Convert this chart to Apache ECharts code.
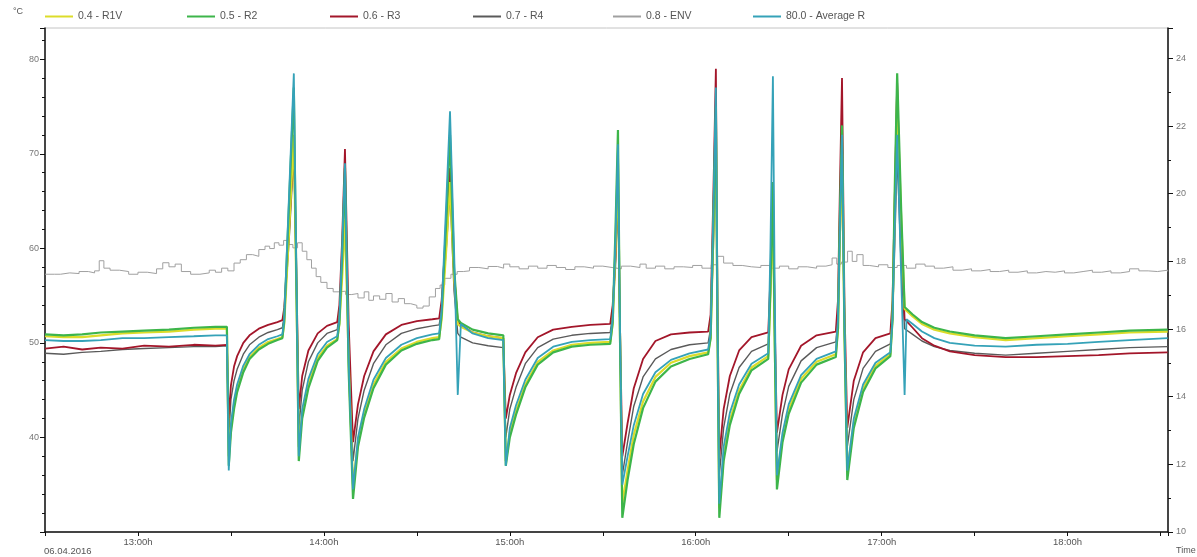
<!DOCTYPE html>
<html>
<head>
<meta charset="utf-8">
<script src="https://cdn.jsdelivr.net/npm/echarts@6/dist/echarts.min.js"></script>
<style>
  html, body { margin: 0; padding: 0; background: #fff; }
  #chart { width: 1197px; height: 557px; }
</style>
</head>
<body>
<div id="chart"></div>
<script>
// Sample times, minutes after 12:00 (06.04.2016)
const T = [30, 36, 42, 48, 55, 62, 70, 78, 85, 88.7,
  89.3, 90, 91, 92, 94, 96, 99, 102, 105, 106.6,
  107.2, 108.8, 110.3, 111.1, 111.9, 113, 115, 118, 121, 124.3,
  125.0, 125.9, 126.8, 128.0, 129.4, 131, 133, 136, 140, 145,
  150, 155, 157.2, 158.0, 159.5, 160.7, 162.0, 163.2, 164.2, 168,
  173, 177.9, 178.7, 180, 182, 185, 189, 194, 200, 206,
  212.4, 213.2, 214.1, 214.9, 215.5, 216.3, 218, 220, 223, 227,
  232, 238, 244.0, 244.8, 245.7, 246.5, 247.0, 247.6, 249, 251,
  254, 258, 263.4, 264.1, 264.9, 265.5, 266.2, 268, 270, 274,
  279, 285.2, 285.9, 286.5, 287.2, 288.0, 288.9, 291, 294, 298,
  302.8, 303.5, 304.2, 305.0, 306.3, 307.4, 308.0, 310, 313, 317,
  322, 330, 340, 350, 360, 370, 380, 392.3];

// Probe temperatures, °C (left axis)
const R1V = [50.7, 50.6, 50.6, 50.8, 51.0, 51.1, 51.2, 51.4, 51.5, 51.5,
  38.0, 41.0, 43.5, 45.2, 47.2, 48.5, 49.5, 50.1, 50.4, 50.6,
  52.0, 62.0, 72.0, 56.0, 39.0, 42.5, 45.7, 48.4, 49.7, 50.4,
  52.0, 57.0, 63.0, 48.0, 35.0, 39.5, 42.5, 45.6, 48.0, 49.4,
  50.1, 50.5, 50.6, 52.5, 60.0, 67.0, 57.0, 52.0, 51.7, 51.1,
  50.7, 50.5, 37.5, 40.5, 42.8, 45.6, 48.0, 49.2, 49.8, 50.0,
  50.1, 52.0, 60.0, 69.0, 52.0, 33.0, 36.5, 40.3, 43.8, 46.4,
  47.9, 48.6, 49.0, 50.5, 62.0, 73.0, 52.0, 32.5, 38.0, 41.8,
  45.0, 47.4, 48.6, 55.0, 64.0, 50.0, 35.5, 40.0, 43.0, 46.2,
  48.0, 48.8, 51.5, 61.0, 70.0, 51.0, 36.5, 41.5, 45.2, 47.6,
  48.8, 52.5, 64.0, 76.0, 63.0, 53.6, 53.4, 52.8, 52.0, 51.4,
  51.0, 50.6, 50.3, 50.5, 50.7, 50.9, 51.1, 51.2];

const R2 = [50.9, 50.8, 50.9, 51.1, 51.2, 51.3, 51.4, 51.6, 51.7, 51.7,
  37.0, 40.5, 43.0, 44.8, 46.9, 48.3, 49.3, 49.9, 50.3, 50.5,
  52.3, 65.0, 77.0, 57.0, 37.5, 42.0, 45.2, 48.1, 49.5, 50.3,
  52.1, 59.0, 68.5, 47.0, 33.5, 39.0, 42.1, 45.2, 47.7, 49.2,
  49.9, 50.3, 50.4, 53.0, 63.0, 72.0, 58.0, 52.5, 52.1, 51.4,
  51.0, 50.8, 37.0, 40.0, 42.4, 45.3, 47.7, 49.0, 49.6, 49.8,
  49.9, 52.2, 62.0, 72.5, 52.0, 31.5, 35.5, 39.3, 43.1, 45.9,
  47.5, 48.3, 48.8, 50.5, 63.0, 75.0, 52.0, 31.5, 37.5, 41.3,
  44.6, 47.1, 48.3, 56.0, 67.0, 50.0, 34.5, 39.5, 42.5, 45.8,
  47.7, 48.5, 51.5, 63.0, 73.0, 51.0, 35.5, 41.0, 44.8, 47.3,
  48.6, 52.5, 66.0, 78.5, 64.0, 53.8, 53.6, 53.0, 52.2, 51.6,
  51.2, 50.8, 50.5, 50.7, 50.9, 51.1, 51.3, 51.4];

const R3 = [49.4, 49.6, 49.3, 49.5, 49.4, 49.7, 49.6, 49.8, 49.7, 49.8,
  42.0, 45.5, 47.5, 48.6, 50.0, 50.8, 51.5, 51.9, 52.2, 52.4,
  53.7, 62.0, 71.5, 58.0, 43.0, 46.5, 49.2, 51.0, 51.8, 52.2,
  54.0, 61.0, 70.5, 52.0, 39.5, 43.5, 46.5, 49.1, 50.9, 51.9,
  52.3, 52.5, 52.6, 54.5, 62.0, 68.5, 57.5, 52.3, 51.9, 51.1,
  50.7, 50.5, 42.0, 44.5, 46.8, 49.0, 50.6, 51.4, 51.7, 51.9,
  52.0, 54.0, 59.0, 67.0, 53.0, 38.0, 41.5, 45.2, 48.3, 50.2,
  50.9, 51.1, 51.2, 53.0, 66.0, 79.0, 55.0, 38.0, 43.0, 46.5,
  49.2, 50.6, 51.1, 57.0, 66.0, 52.0, 40.5, 44.5, 47.2, 49.7,
  50.8, 51.2, 54.5, 66.0, 78.0, 54.0, 41.0, 46.0, 49.0, 50.5,
  51.0, 54.5, 65.0, 77.5, 61.0, 52.5, 52.3, 51.6, 50.5, 49.7,
  49.1, 48.7, 48.5, 48.5, 48.6, 48.7, 48.9, 49.0];

const R4 = [48.9, 48.8, 49.0, 49.1, 49.3, 49.4, 49.5, 49.6, 49.6, 49.7,
  40.0, 44.0, 46.0, 47.2, 48.8, 49.8, 50.6, 51.1, 51.4, 51.6,
  52.9, 61.0, 70.0, 57.0, 41.0, 45.0, 48.0, 50.0, 51.0, 51.4,
  53.0, 58.5, 67.0, 50.0, 37.5, 42.0, 45.0, 47.8, 49.8, 51.0,
  51.5, 51.8, 51.9, 53.5, 60.0, 66.0, 55.5, 51.0, 50.6, 50.0,
  49.7, 49.5, 40.0, 43.0, 45.3, 47.8, 49.5, 50.4, 50.8, 51.0,
  51.1, 53.0, 58.0, 66.0, 52.0, 36.0, 39.5, 43.3, 46.4, 48.3,
  49.3, 49.8, 50.0, 51.5, 60.0, 70.0, 52.0, 36.0, 41.0, 44.6,
  47.4, 49.1, 49.9, 55.0, 63.0, 50.0, 38.5, 42.5, 45.4, 48.1,
  49.5, 50.1, 52.5, 60.0, 68.0, 51.0, 39.0, 44.0, 47.3, 49.1,
  49.9, 52.5, 60.0, 70.0, 58.0, 51.5, 51.4, 50.9, 50.2, 49.6,
  49.2, 48.9, 48.7, 48.9, 49.1, 49.3, 49.5, 49.6];

const AVG_R = [50.3, 50.2, 50.2, 50.3, 50.5, 50.5, 50.6, 50.7, 50.8, 50.8,
  36.5, 41.5, 44.0, 45.6, 47.6, 48.8, 49.8, 50.4, 50.7, 50.9,
  52.5, 66.0, 78.5, 58.0, 38.0, 43.0, 46.2, 48.8, 50.1, 50.7,
  52.5, 60.0, 69.0, 48.0, 34.5, 40.0, 43.0, 46.1, 48.4, 49.8,
  50.5, 50.9, 51.0, 53.5, 65.0, 74.5, 60.0, 44.5, 52.0, 51.0,
  50.5, 50.3, 37.0, 41.0, 43.4, 46.1, 48.4, 49.6, 50.1, 50.3,
  50.4, 52.5, 61.0, 71.0, 53.0, 35.0, 38.0, 41.3, 44.6, 46.9,
  48.2, 48.9, 49.3, 51.0, 64.0, 77.0, 53.0, 33.0, 39.0, 42.6,
  45.6, 47.8, 48.9, 60.0, 78.2, 55.0, 36.0, 40.5, 43.5, 46.6,
  48.3, 49.1, 52.5, 62.0, 72.0, 52.0, 36.5, 42.0, 45.6, 47.9,
  49.0, 52.5, 62.0, 72.0, 57.0, 44.5, 52.5, 52.0, 51.2, 50.5,
  50.0, 49.7, 49.6, 49.8, 49.9, 50.1, 50.3, 50.5];

// Environment temperature, °C (right axis), own sample times
const ENV_T = [30, 33, 35, 38, 41, 44, 46, 47.5, 49, 51,
  54, 57, 60, 63, 66, 68, 70, 72, 74, 77,
  80, 83, 85, 87, 89, 91, 93, 95, 97, 99,
  101, 102.5, 104, 105.5, 107, 108.5, 110, 111.5, 113, 114.5,
  116, 117.5, 119, 121, 123, 125, 127, 129, 131, 133,
  134.5, 136, 138, 140, 142, 144, 146, 148, 150, 152,
  154, 156, 157.5, 159, 161, 163, 165, 167, 170, 173,
  176, 178, 180, 183, 186, 189, 192, 195, 198, 201,
  204, 207, 210, 213, 216, 219, 222, 224, 227, 230,
  233, 236, 239, 242, 245, 247, 249, 252, 255, 258,
  261, 264, 267, 270, 273, 276, 279, 282, 284, 285.5,
  287, 289, 290.5, 292, 294, 296, 299, 302, 305, 308,
  311, 314, 317, 320, 323, 326, 329, 332, 335, 338,
  341, 344, 347, 350, 353, 356, 359, 362, 365, 368,
  371, 374, 377, 380, 383, 386, 389, 392.3];

const ENV = [17.62, 17.62, 17.66, 17.64, 17.70, 17.66, 17.72, 18.02, 17.80, 17.74,
  17.70, 17.62, 17.68, 17.64, 17.78, 17.96, 17.84, 17.92, 17.70, 17.62,
  17.66, 17.74, 17.68, 17.80, 17.72, 17.95, 18.05, 18.20, 18.15, 18.35,
  18.45, 18.38, 18.55, 18.48, 18.62, 18.50, 18.40, 18.55, 18.30, 18.05,
  17.80, 17.55, 17.38, 17.20, 17.10, 17.12, 17.02, 17.05, 16.92, 17.10,
  16.85, 16.98, 16.88, 17.05, 16.80, 16.90, 16.75, 16.70, 16.62, 16.68,
  16.95, 17.20, 17.30, 17.50, 17.62, 17.70, 17.72, 17.82, 17.78, 17.85,
  17.80, 17.92, 17.84, 17.78, 17.86, 17.80, 17.88, 17.82, 17.76, 17.84,
  17.80, 17.86, 17.82, 17.78, 17.86, 17.82, 17.92, 17.80, 17.86, 17.78,
  17.84, 17.82, 17.88, 17.80, 17.90, 18.15, 17.95, 17.88, 17.84, 17.82,
  17.88, 17.80, 17.86, 17.78, 17.84, 17.80, 17.86, 17.90, 18.10, 17.92,
  17.98, 18.30, 18.00, 18.20, 17.88, 17.84, 17.90, 17.82, 17.88, 17.80,
  17.92, 17.86, 17.80, 17.84, 17.74, 17.78, 17.72, 17.76, 17.70, 17.74,
  17.68, 17.72, 17.66, 17.70, 17.68, 17.72, 17.66, 17.70, 17.74, 17.68,
  17.72, 17.66, 17.70, 17.78, 17.72, 17.70, 17.74, 17.70];

const SERIES_NAMES = ['0.4 - R1V', '0.5 - R2', '0.6 - R3', '0.7 - R4', '0.8 - ENV', '80.0 - Average R'];
const SERIES_COLORS = ['#dcdc2a', '#3db54a', '#a3162a', '#5a5a5a', '#a0a0a0', '#35a2b8'];
const HOUR_LABELS = [13, 14, 15, 16, 17, 18];

// minutes after noon -> decimal hours on the time axis
const toPoints = (ts, vs) => ts.map((t, i) => [12 + t / 60, vs[i]]);

const near = (a, b) => Math.abs(a - b) < 1e-6;

const chart = echarts.init(document.getElementById('chart'), null, { renderer: 'canvas' });

const FONT = 'Liberation Sans, Arial, sans-serif';
const legendText = { fontFamily: FONT, fontSize: 10.5, color: '#555' };
const legendLeft = [40, 182, 325, 468, 608, 748];

const lineSeries = (idx, values, ts, axis, width, z, step) => ({
  name: SERIES_NAMES[idx],
  type: 'line',
  yAxisIndex: axis,
  data: toPoints(ts, values),
  showSymbol: false,
  symbol: 'none',
  step: step || false,
  z: z,
  lineStyle: { color: SERIES_COLORS[idx], width: width },
  itemStyle: { color: SERIES_COLORS[idx] },
  emphasis: { disabled: true }
});

chart.setOption({
  animation: false,
  backgroundColor: '#fff',
  textStyle: { fontFamily: FONT },
  legend: SERIES_NAMES.map((n, i) => ({
    data: [n],
    left: legendLeft[i],
    top: 6,
    icon: 'rect',
    itemWidth: 28,
    itemHeight: 2,
    itemGap: 6,
    selectedMode: false,
    textStyle: legendText
  })),
  grid: {
    left: 45, right: 29, top: 28, bottom: 25,
    show: true, borderColor: '#c4c4c4', borderWidth: 1
  },
  xAxis: {
    type: 'value',
    min: 12.5,
    max: 18.54,
    interval: 0.5,
    axisLine: { lineStyle: { color: '#111', width: 1.5 } },
    axisTick: { length: 4, lineStyle: { color: '#111' } },
    splitLine: { show: false },
    axisLabel: {
      margin: 5,
      fontSize: 9.5,
      color: '#555',
      formatter: v => {
        const h = HOUR_LABELS.find(x => near(x, v));
        return h !== undefined ? h + ':00h' : '';
      }
    }
  },
  yAxis: [
    {
      type: 'value',
      position: 'left',
      min: 30,
      max: 83.3,
      interval: 10,
      axisLine: { show: true, lineStyle: { color: '#111', width: 1.5 } },
      axisTick: { show: true, length: 5, lineStyle: { color: '#111' } },
      minorTick: { show: true, splitNumber: 5, length: 3, lineStyle: { color: '#111' } },
      splitLine: { show: false },
      axisLabel: {
        fontSize: 9, color: '#777', margin: 6,
        formatter: v => {
          const r = Math.round(v / 10) * 10;
          return (near(r, v) && r >= 40 && r <= 80) ? String(r) : '';
        }
      }
    },
    {
      type: 'value',
      position: 'right',
      min: 10,
      max: 24.9,
      interval: 2,
      axisLine: { show: true, lineStyle: { color: '#111', width: 1.5 } },
      axisTick: { show: true, length: 5, lineStyle: { color: '#111' } },
      minorTick: { show: true, splitNumber: 2, length: 3, lineStyle: { color: '#111' } },
      splitLine: { show: false },
      axisLabel: {
        fontSize: 9, color: '#777', margin: 8,
        formatter: v => {
          const r = Math.round(v / 2) * 2;
          return (near(r, v) && r >= 10 && r <= 24) ? String(r) : '';
        }
      }
    }
  ],
  graphic: [
    { type: 'text', left: 13, top: 7, style: { text: '°C', fontSize: 9, fill: '#555', fontFamily: FONT } },
    { type: 'text', left: 44, top: 546, style: { text: '06.04.2016', fontSize: 9.5, fill: '#555', fontFamily: FONT } },
    { type: 'text', left: 1176, top: 546, style: { text: 'Time', fontSize: 9, fill: '#555', fontFamily: FONT } }
  ],
  series: [
    lineSeries(4, ENV, ENV_T, 1, 1, 1, 'end'),
    lineSeries(3, R4, T, 0, 1.4, 2),
    lineSeries(2, R3, T, 0, 1.8, 3),
    lineSeries(0, R1V, T, 0, 2.2, 4),
    lineSeries(1, R2, T, 0, 2.2, 5),
    lineSeries(5, AVG_R, T, 0, 1.8, 6)
  ]
});
</script>
</body>
</html>
